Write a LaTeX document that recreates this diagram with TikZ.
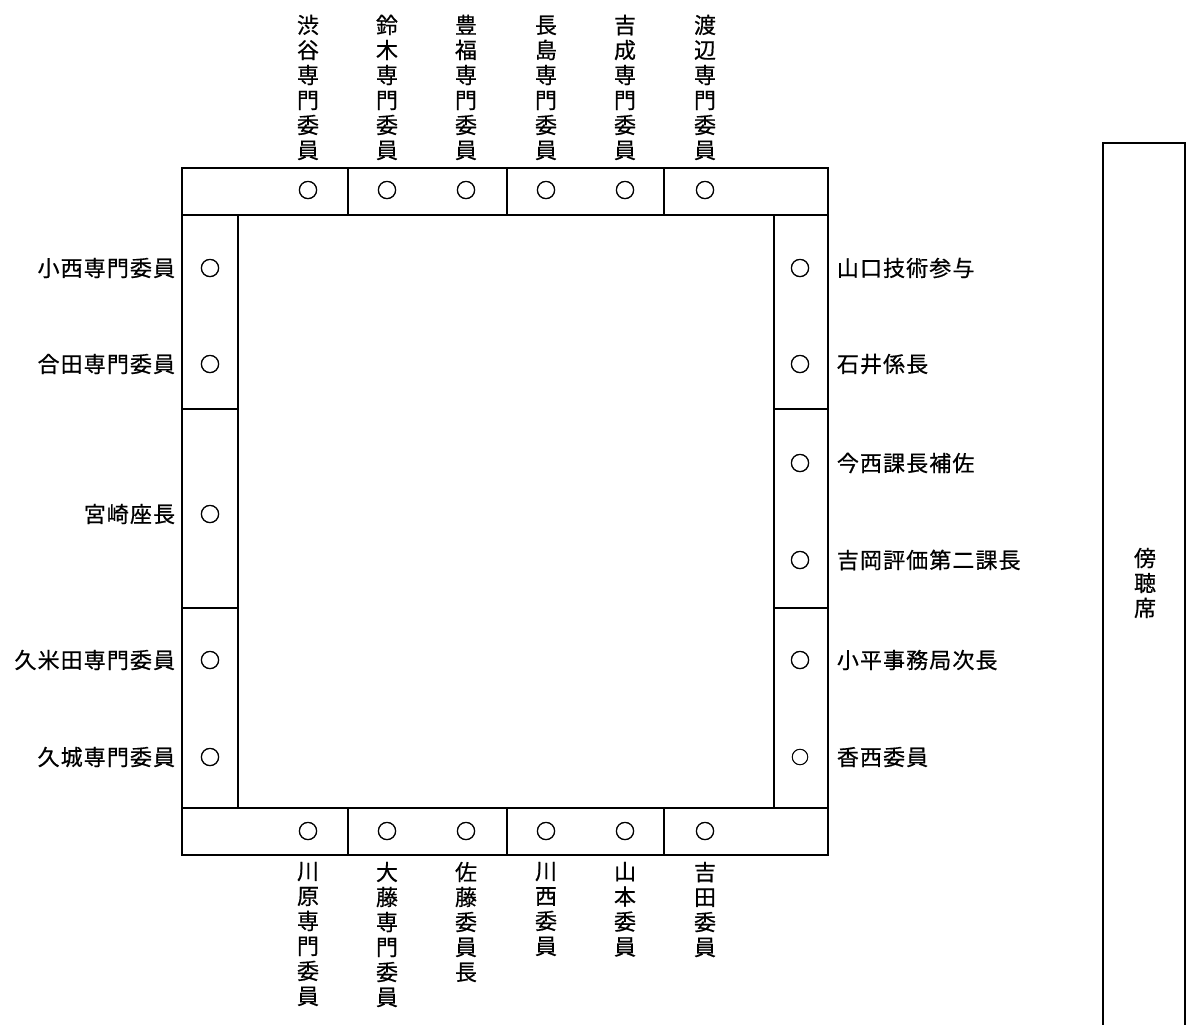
\documentclass[tikz,border=0pt]{standalone}
\usepackage{fontspec}
\setmainfont{Noto Sans CJK JP}
\usetikzlibrary{positioning}

\begin{document}
\begin{tikzpicture}[x=1pt,y=-1pt,line width=1.8pt,
  seat/.style={inner sep=0pt,font=\fontsize{20}{20}\selectfont\addfontfeature{FakeBold=2.5}},
  person/.style={inner sep=0pt,font=\fontsize{22}{25}\selectfont\addfontfeature{LetterSpace=5,FakeBold=0.6}},
  vperson/.style={person,align=center}]
\useasboundingbox (0,0) rectangle (1187,1025);
% tables
\draw (182,168) rectangle (828,215);
\draw (182,808) rectangle (828,855);
\draw (182,215) rectangle (238,808);
\draw (774,215) rectangle (828,808);
\foreach \x in {348,507,664} {
  \draw (\x,168) -- (\x,215);
  \draw (\x,808) -- (\x,855);
}
\foreach \y in {409,608} {
  \draw (182,\y) -- (238,\y);
  \draw (774,\y) -- (828,\y);
}
% gallery
\draw[line width=2pt] (1103,1025) -- (1103,143) -- (1185,143) -- (1185,1025);
\node[vperson] (gallery) at (1145,583) {傍\\聴\\席};

% seats
\foreach \x [count=\i] in {308,387,466,546,625,705} {
  \node[seat] (t\i) at (\x,190) {○};
  \node[seat] (b\i) at (\x,831) {○};
}
\foreach \y [count=\i] in {268,364,514,660,757}
  \node[seat] (l\i) at (210,\y) {○};
\foreach \y [count=\i] in {268,364,463,560,660}
  \node[seat] (r\i) at (800,\y) {○};
\node[seat,font=\fontsize{18}{18}\selectfont\addfontfeature{FakeBold=1.5}] (r6) at (800,757) {○};

% top names
\node[vperson,anchor=south] (tn1) at (308,161) {渋\\谷\\専\\門\\委\\員};
\node[vperson,anchor=south] (tn2) at (387,161) {鈴\\木\\専\\門\\委\\員};
\node[vperson,anchor=south] (tn3) at (466,161) {豊\\福\\専\\門\\委\\員};
\node[vperson,anchor=south] (tn4) at (546,161) {長\\島\\専\\門\\委\\員};
\node[vperson,anchor=south] (tn5) at (625,161) {吉\\成\\専\\門\\委\\員};
\node[vperson,anchor=south] (tn6) at (705,161) {渡\\辺\\専\\門\\委\\員};

% bottom names
\node[vperson,anchor=north] (bn1) at (308,861) {川\\原\\専\\門\\委\\員};
\node[vperson,anchor=north] (bn2) at (387,861) {大\\藤\\専\\門\\委\\員};
\node[vperson,anchor=north] (bn3) at (466,861) {佐\\藤\\委\\員\\長};
\node[vperson,anchor=north] (bn4) at (546,861) {川\\西\\委\\員};
\node[vperson,anchor=north] (bn5) at (625,861) {山\\本\\委\\員};
\node[vperson,anchor=north] (bn6) at (705,861) {吉\\田\\委\\員};

% left names
\node[person,anchor=east] (ln1) at (176,268) {小西専門委員};
\node[person,anchor=east] (ln2) at (176,364) {合田専門委員};
\node[person,anchor=east] (ln3) at (176,514) {宮崎座長};
\node[person,anchor=east] (ln4) at (176,660) {久米田専門委員};
\node[person,anchor=east] (ln5) at (176,757) {久城専門委員};

% right names
\node[person,anchor=west] (rn1) at (836,268) {山口技術参与};
\node[person,anchor=west] (rn2) at (836,364) {石井係長};
\node[person,anchor=west] (rn3) at (836,463) {今西課長補佐};
\node[person,anchor=west] (rn4) at (836,560) {吉岡評価第二課長};
\node[person,anchor=west] (rn5) at (836,660) {小平事務局次長};
\node[person,anchor=west] (rn6) at (836,757) {香西委員};
\end{tikzpicture}
\end{document}
